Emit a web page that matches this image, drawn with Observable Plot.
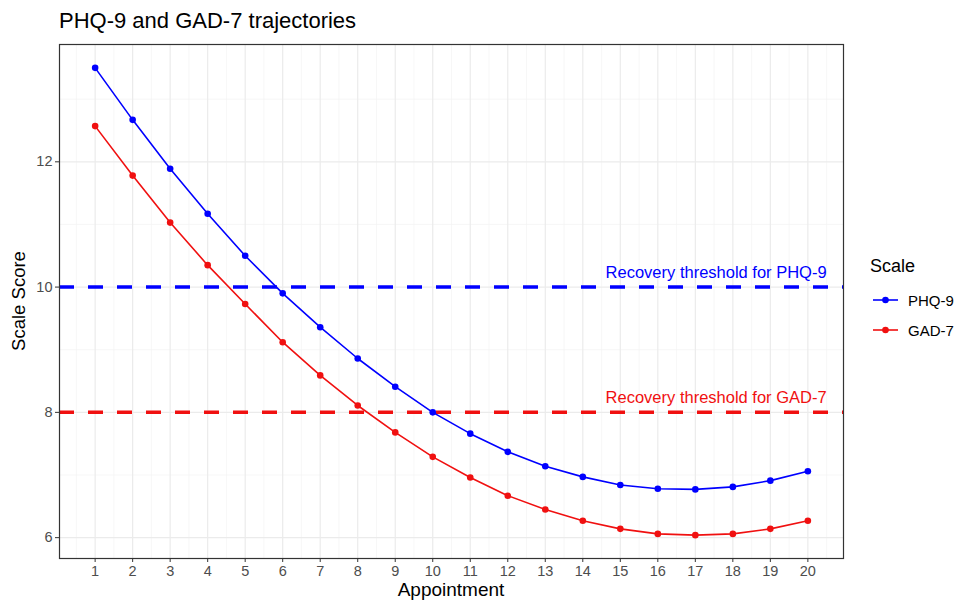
<!DOCTYPE html>
<html><head><meta charset="utf-8">
<script src="https://cdn.jsdelivr.net/npm/d3@7"></script>
<script src="https://cdn.jsdelivr.net/npm/@observablehq/plot@0.6"></script>
<style>
body{margin:0;background:#fff;font-family:"Liberation Sans",Arial,sans-serif;}
#wrap{position:relative;width:955px;height:601px;overflow:hidden;background:#fff;}
#title{position:absolute;left:59px;top:8px;font-size:22px;color:#000;white-space:nowrap;}
#chart{position:absolute;left:0;top:38px;}
#ylab{position:absolute;left:19px;top:301px;transform:translate(-50%,-50%) rotate(-90deg);font-size:18.5px;color:#000;white-space:nowrap;}
#xlab{position:absolute;left:451px;top:580px;transform:translateX(-50%);font-size:19px;line-height:20px;color:#000;white-space:nowrap;}
#legend{position:absolute;left:870px;top:256px;}
#legend .lt{font-size:18px;color:#000;margin-bottom:8px;}
#legend .it{display:flex;align-items:center;height:30px;font-size:15px;color:#000;}
</style></head>
<body><div id="wrap">
<div id="title">PHQ-9 and GAD-7 trajectories</div>
<div id="chart"></div>
<div id="ylab">Scale Score</div>
<div id="xlab">Appointment</div>
<div id="legend"></div>
</div>
<script>
const appointments = [1,2,3,4,5,6,7,8,9,10,11,12,13,14,15,16,17,18,19,20];
const phq9 = [13.50,12.67,11.89,11.17,10.50,9.90,9.36,8.86,8.41,8.00,7.66,7.37,7.14,6.97,6.84,6.78,6.77,6.81,6.91,7.06];
const gad7 = [12.57,11.78,11.03,10.35,9.73,9.12,8.59,8.11,7.68,7.29,6.96,6.67,6.45,6.27,6.14,6.06,6.04,6.06,6.14,6.27];
const scales = ["PHQ-9","GAD-7"];
const scaleColors = ["#0000ff","#f01010"];
const thresholdValues = [10, 8];
const thresholdLabels = ["Recovery threshold for PHQ-9","Recovery threshold for GAD-7"];
const thresholdLabelX = 20.5;
const yTicks = [6,8,10,12];
const yMinorTicks = [7,9,11,13];
const xMinorTicks = [0.5,1.5,2.5,3.5,4.5,5.5,6.5,7.5,8.5,9.5,10.5,11.5,12.5,13.5,14.5,15.5,16.5,17.5,18.5,19.5,20.5];

const data = [];
appointments.forEach((a,i)=>{ data.push({appointment:a, score:phq9[i], scale:"PHQ-9"}); });
appointments.forEach((a,i)=>{ data.push({appointment:a, score:gad7[i], scale:"GAD-7"}); });
const thresholds = thresholdValues.map((v,i)=>({value:v, label:thresholdLabels[i], scale:scales[i], x:thresholdLabelX}));

const xmin = 1 - 0.05*19, xmax = 20 + 0.05*19;
const yLo = 6.04, yHi = 13.5, yr = yHi - yLo;

const plot = Plot.plot({
  width: 955,
  height: 563,
  marginLeft: 59,
  marginRight: 112,
  marginTop: 6,
  marginBottom: 43,
  style: {fontFamily: '"Liberation Sans",Arial,sans-serif', background: "#fff"},
  x: {domain: [xmin, xmax]},
  y: {domain: [yLo - 0.05*yr, yHi + 0.05*yr]},
  color: {domain: scales, range: scaleColors},
  marks: [
    Plot.ruleX(xMinorTicks, {stroke: "#f4f4f4", strokeWidth: 0.7}),
    Plot.ruleY(yMinorTicks, {stroke: "#f4f4f4", strokeWidth: 0.7}),
    Plot.ruleX(appointments, {stroke: "#ebebeb", strokeWidth: 1.2}),
    Plot.ruleY(yTicks, {stroke: "#ebebeb", strokeWidth: 1.2}),
    Plot.ruleY(thresholds, {y: "value", stroke: "scale", strokeWidth: 3.5, strokeDasharray: "15,14"}),
    Plot.text(thresholds, {x: "x", y: "value", text: "label", fill: "scale", textAnchor: "end", lineAnchor: "bottom", dy: -9, fontSize: 16.5}),
    Plot.line(data, {x: "appointment", y: "score", stroke: "scale", strokeWidth: 1.6}),
    Plot.dot(data, {x: "appointment", y: "score", fill: "scale", r: 3.3}),
    Plot.frame({stroke: "#333", strokeWidth: 1.2}),
    Plot.axisX(appointments, {tickSize: 4, tickPadding: 3, fontSize: 14.5, color: "#4d4d4d", stroke: "#333", label: null, tickFormat: d => String(d)}),
    Plot.axisY(yTicks, {tickSize: 4, tickPadding: 3, fontSize: 14.5, color: "#4d4d4d", stroke: "#333", label: null, tickFormat: d => String(d)})
  ]
});
document.getElementById("chart").appendChild(plot);

// legend
const lg = document.getElementById("legend");
const lt = document.createElement("div"); lt.className = "lt"; lt.textContent = "Scale"; lg.appendChild(lt);
scales.forEach((s,i)=>{
  const it = document.createElement("div"); it.className = "it";
  it.innerHTML = `<svg width="36" height="20" style="margin-right:2px"><line x1="3" x2="28" y1="10" y2="10" stroke="${scaleColors[i]}" stroke-width="1.6"/><circle cx="15.5" cy="10" r="3.3" fill="${scaleColors[i]}"/></svg><span>${s}</span>`;
  lg.appendChild(it);
});
</script>
</body></html>
